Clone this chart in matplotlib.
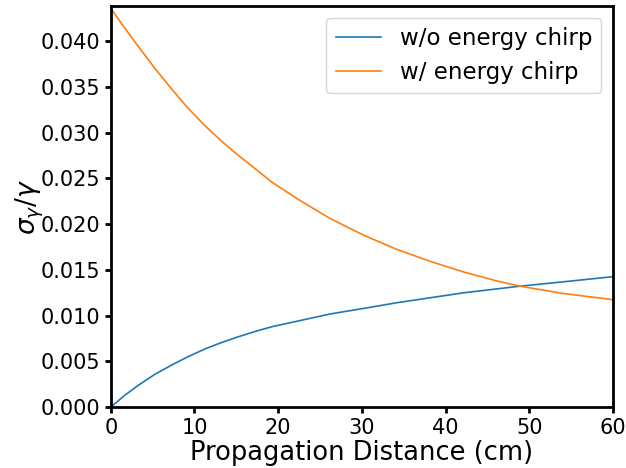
import numpy as np
import matplotlib
matplotlib.use('Agg')
import matplotlib.pyplot as plt

# values
z_chirp = [0, 1.6, 3.3, 5.2, 7.25, 9.2, 11.2, 13.2, 15.2, 17.2, 19.2, 22.4, 26.2, 30.2, 34.1, 38.1, 42.1,
           46.1, 48.9, 54.1, 59.8, 60]
w_chirp = [0.0436, 0.0415, 0.0394, 0.0371, 0.0348, 0.0327, 0.0308, 0.0291, 0.02754, 0.0261, 0.02462,
           0.0227, 0.02062, 0.0188, 0.01727, 0.01596, 0.01479, 0.0138, 0.01322, 0.01242, 0.01177, 0.01172]

z_nochirp = [0, 1.6, 3.3, 5.2, 7.25, 9.2, 11.2, 13.2, 15.2, 17.2, 19.2, 23.2, 26.2, 30.4, 34.1, 42.1,
             48.9, 54.1, 59.8, 60]
wo_chirp = [0.0, 0.00125, 0.0024, 0.00355, 0.00459, 0.0055, 0.00634, 0.00705, 0.00768, 0.00826, 0.00878,
            0.00958, 0.01018, 0.01082, 0.0114, 0.01249, 0.01322, 0.0137, 0.01424, 0.01426]

fig = plt.figure(figsize=(6.26, 4.68), dpi=100)
ax = fig.add_axes([0.177, 0.130, 0.802, 0.857])

ax.plot(z_nochirp, wo_chirp, color='#1f77b4', lw=1.2, label='w/o energy chirp')
ax.plot(z_chirp, w_chirp, color='#ff7f0e', lw=1.2, label='w/ energy chirp')

ax.set_xlim(0, 60)
ax.set_ylim(0, 0.04383)
ax.set_yticks(np.arange(0, 0.0401, 0.005))
ax.set_xlabel('Propagation Distance (cm)', fontsize=18.5, labelpad=2)
ax.set_ylabel(r'$\sigma_\gamma/\gamma$', fontsize=19, labelpad=-4)
ax.tick_params(labelsize=15, width=2, length=4)
for s in ax.spines.values():
    s.set_linewidth(2)
ax.legend(loc='upper right', fontsize=16.5)

fig.savefig('out.png', dpi=100)
